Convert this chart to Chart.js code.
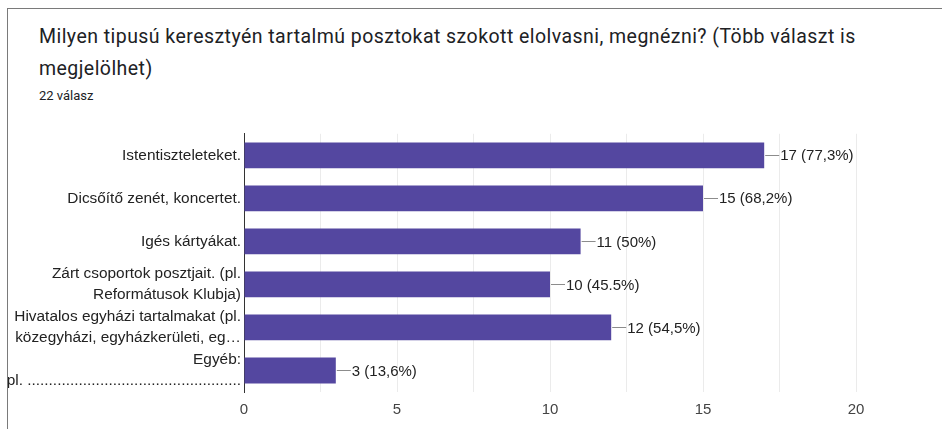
<!DOCTYPE html>
<html>
<head>
<meta charset="utf-8">
<script src="https://cdn.jsdelivr.net/npm/chart.js@4/dist/chart.umd.min.js"></script>
<style>
  html, body { margin: 0; padding: 0; background: #fff; width: 942px; height: 429px; overflow: hidden; }
  #card { position: absolute; left: 7px; top: 8px; width: 935px; height: 421px;
          border-left: 1px solid #7a7a7a; border-top: 1px solid #7a7a7a; }
  #title { position: absolute; left: 31px; top: 12px; font: 19.5px Roboto, "Noto Sans", sans-serif;
           letter-spacing: 0.45px; color: #202124; line-height: 32px; white-space: nowrap; }
  #sub { position: absolute; left: 31px; top: 79px; font: 13px Roboto, sans-serif; color: #202124; line-height: 16px; }
  #wrap { position: absolute; left: 0; top: 101px; width: 934px; height: 319px; }
</style>
</head>
<body>
<div id="card">
  <div id="title">Milyen tipusú keresztyén tartalmú posztokat szokott elolvasni, megnézni? (Több választ is<br>megjelölhet)</div>
  <div id="sub">22 válasz</div>
  <div id="wrap"><canvas id="chart"></canvas></div>
</div>
<script>
// Answer options (multi-line labels as arrays)
const categories = [
  ['Istentiszteleteket.'],
  ['Dicsőítő zenét, koncertet.'],
  ['Igés kártyákat.'],
  ['Zárt csoportok posztjait. (pl.', 'Reformátusok Klubja)'],
  ['Hivatalos egyházi tartalmakat (pl.', 'közegyházi, egyházkerületi, eg…'],
  ['Egyéb:', 'pl. ' + '.'.repeat(50)]
];
// Number of respondents choosing each option
const counts = [17, 15, 11, 10, 12, 3];
// Share of the 22 responses, as printed next to the bars
const percentLabels = ['77,3%', '68,2%', '50%', '45.5%', '54,5%', '13,6%'];
// Labelled x-axis values
const xTickLabels = ['0', '5', '10', '15', '20'];

const barColor = '#5447a0';
const labelFont = '"Liberation Sans", Arial, sans-serif';

// Leader line and "n (p%)" text at the end of each bar
const valueLabels = {
  id: 'valueLabels',
  afterDatasetsDraw(chart) {
    const ctx = chart.ctx;
    const meta = chart.getDatasetMeta(0);
    ctx.save();
    meta.data.forEach((bar, i) => {
      const x = bar.x, y = bar.y;
      ctx.strokeStyle = '#8c8c8c';
      ctx.lineWidth = 1;
      ctx.beginPath();
      ctx.moveTo(x + 1, Math.round(y) + 0.5);
      ctx.lineTo(x + 15, Math.round(y) + 0.5);
      ctx.stroke();
      ctx.fillStyle = '#222';
      ctx.font = '15px ' + labelFont;
      ctx.textBaseline = 'middle';
      ctx.textAlign = 'left';
      ctx.fillText(counts[i] + ' (' + percentLabels[i] + ')', x + 16, y + 1);
    });
    ctx.restore();
  }
};

new Chart(document.getElementById('chart'), {
  type: 'bar',
  data: {
    labels: categories,
    datasets: [{
      data: counts,
      backgroundColor: barColor,
      borderWidth: 0,
      categoryPercentage: 1,
      barPercentage: 0.6
    }]
  },
  options: {
    indexAxis: 'y',
    responsive: true,
    maintainAspectRatio: false,
    animation: false,
    layout: { padding: { top: 18, right: 86, left: 0, bottom: 0 } },
    plugins: { legend: { display: false }, tooltip: { enabled: false } },
    scales: {
      x: {
        min: 0, max: 20,
        afterFit(scale) { scale.height = 37; },
        border: { display: false },
        grid: { color: '#ebebeb', lineWidth: 1, drawTicks: false },
        ticks: {
          stepSize: 2.5,
          autoSkip: false,
          maxRotation: 0,
          padding: 9,
          color: '#444',
          font: { family: labelFont, size: 15 },
          callback: (v) => xTickLabels.includes(String(v)) ? String(v) : ''
        }
      },
      y: {
        afterFit(scale) { scale.width = 236; },
        border: { display: true, color: '#333', width: 1 },
        grid: { display: false, drawTicks: false },
        ticks: {
          autoSkip: false,
          padding: 3,
          color: '#222',
          font: { family: labelFont, size: 15.4, lineHeight: 1.35 }
        }
      }
    }
  },
  plugins: [valueLabels]
});
</script>
</body>
</html>
